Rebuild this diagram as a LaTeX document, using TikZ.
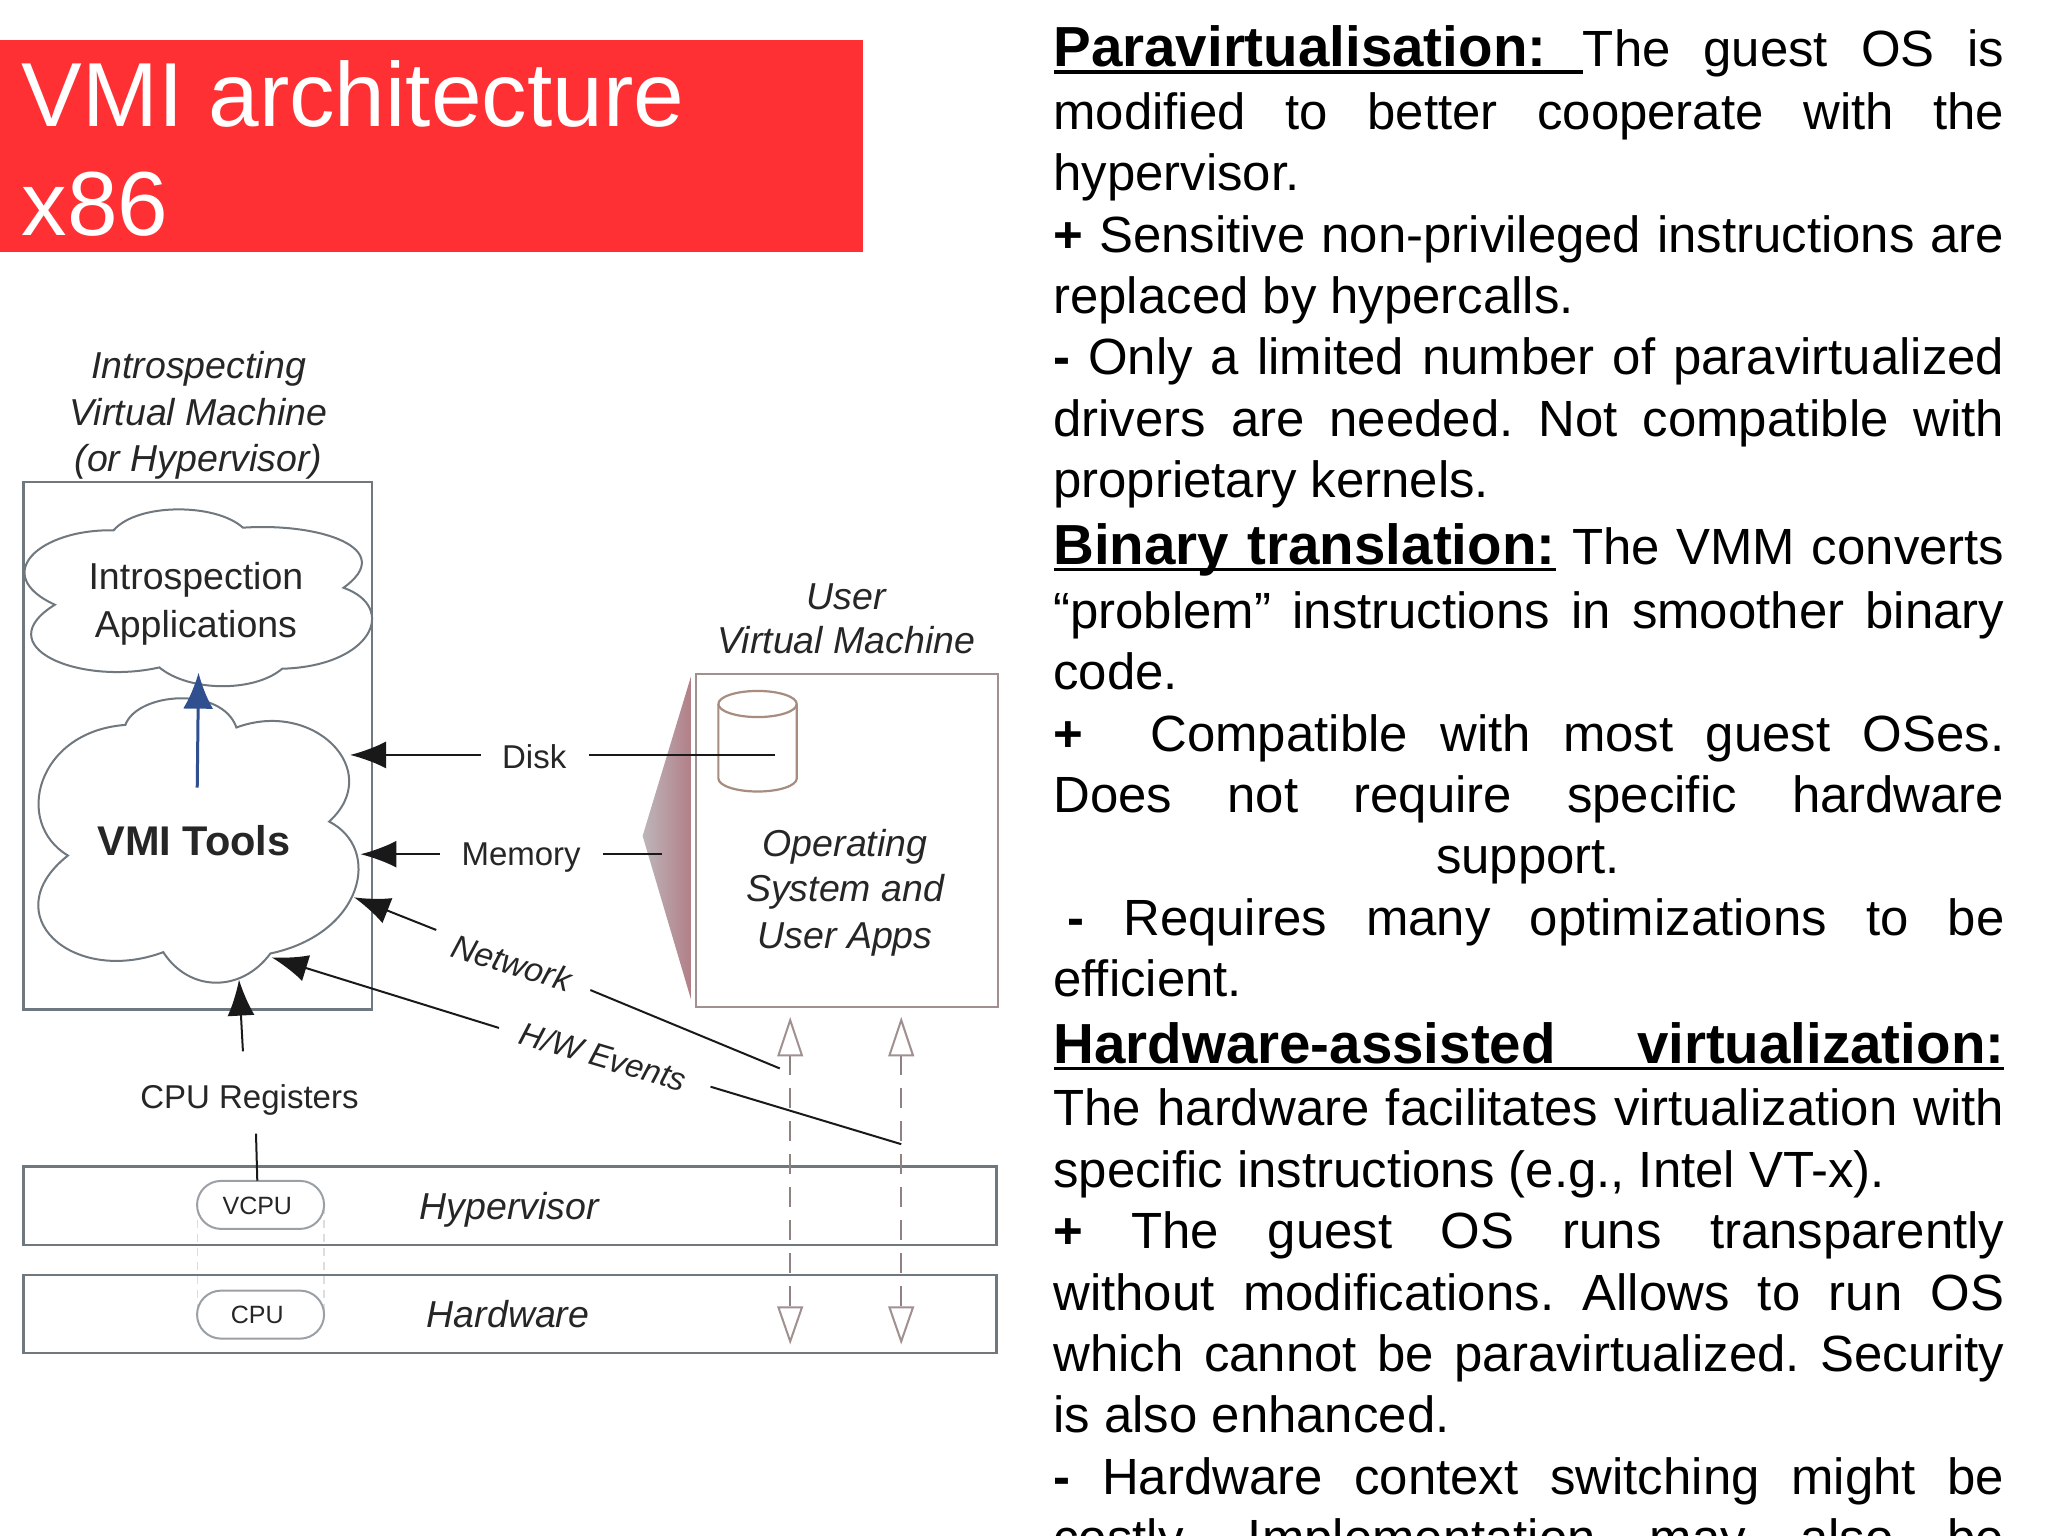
\documentclass[tikz,border=0pt]{standalone}
\usepackage{fontspec}
\setmainfont{Liberation Sans}
\usetikzlibrary{arrows.meta}
\hbadness=10000 \hfuzz=30pt
\definecolor{redbar}{HTML}{FE3033}
\definecolor{boxline}{HTML}{6F777F}
\definecolor{pinkline}{HTML}{A0908F}
\definecolor{ink}{HTML}{262626}
\definecolor{bluearrow}{HTML}{2F4F8F}
\definecolor{wedgeL}{HTML}{BDB6BA}
\definecolor{wedgeR}{HTML}{B27F88}
\newcommand{\FSbody}{\fontsize{50.9}{60}\selectfont}
\newcommand{\FShead}{\fontsize{56.5}{66}\selectfont\bfseries}
\newcommand{\JL}[1]{\makebox[951pt][s]{\frenchspacing #1}}
\tikzset{
  every node/.style={inner sep=0pt,outer sep=0pt},
  textline/.style={anchor=base west,text=black,font=\FSbody},
  box/.style={draw=boxline,line width=2.4pt},
  cloud line/.style={draw=boxline,line width=2pt,fill=white},
  lab/.style={text=ink,font=\fontsize{37.5}{44}\selectfont\itshape,anchor=base},
  plainlab/.style={text=ink,font=\fontsize{37.5}{44}\selectfont,anchor=base},
  small/.style={text=ink,font=\fontsize{33}{40}\selectfont,anchor=base},
  smallit/.style={text=ink,font=\fontsize{33.5}{40}\selectfont\itshape,anchor=center},
  smallhw/.style={text=ink,font=\fontsize{32.5}{40}\selectfont\itshape,anchor=center},
  arrowline/.style={draw=black!90,line width=2pt},
  head/.style={arrowline,-{Latex[length=36pt,width=27pt]}},
  pill/.style={draw=boxline!70,line width=2pt,rounded corners=24pt,fill=white},
  pilltext/.style={text=ink,font=\fontsize{25}{30}\selectfont},
  hollow/.style={draw=pinkline,line width=2pt,fill=white,line join=miter},
  dashline/.style={draw=pinkline!90!black,line width=1.8pt,dash pattern=on 20pt off 13pt},
  ulinest/.style={draw=black,line width=3.6pt},
  cylline/.style={draw=pinkline!80!brown,line width=2.2pt},
}
\begin{document}
\begin{tikzpicture}[x=1.30612pt,y=-1.30612pt]
\clip (0,0) rectangle (1568,1176);
\fill[white] (0,0) rectangle (1568,1176);
% title
\fill[redbar] (0,31) rectangle (661,193);
\node[anchor=base west,text=white,font=\fontsize{91}{100}\selectfont] (t1) at (16.5,97) {VMI architecture};
\node[anchor=base west,text=white,font=\fontsize{91}{100}\selectfont] (t2) at (16.5,180) {x86};
% boxes
\draw[box] (18,369) rectangle (285,773);
\draw[box] (18,893) rectangle (763,953);
\draw[box] (18,976) rectangle (763,1036);
\draw[draw=pinkline,line width=2.2pt] (533,516) rectangle (764,771);
% wedge
\shade[left color=wedgeL,right color=wedgeR] (529,518) -- (492,640) -- (529,765) -- cycle;
% cylinder
\draw[cylline] (550,539) arc[start angle=180,end angle=-180,x radius=30,y radius=10];
\draw[cylline] (550,539) -- (550,596) arc[start angle=180,end angle=0,x radius=30,y radius=10] -- (610,539);
% clouds
\draw[cloud line] (42,463) .. controls (-8,440) and (30,405) .. (87,406)
  .. controls (105,385) and (165,385) .. (186,404)
  .. controls (245,400) and (305,420) .. (263,450)
  .. controls (305,465) and (285,510) .. (216,512)
  .. controls (195,530) and (145,530) .. (122,511)
  .. controls (60,525) and (-10,495) .. (42,463) -- cycle;
\draw[cloud line] (52,655) .. controls (10,630) and (28,560) .. (96,555)
  .. controls (105,530) and (170,525) .. (181,557)
  .. controls (240,535) and (295,590) .. (252,629)
  .. controls (293,650) and (278,715) .. (207,730)
  .. controls (185,760) and (145,760) .. (125,729)
  .. controls (55,755) and (-5,700) .. (52,655) -- cycle;
% labels
\node[lab] (i1) at (152,290) {Introspecting};
\node[lab] (i2) at (152,326) {Virtual Machine};
\node[lab] (i3) at (152,361) {(or Hypervisor)};
\node[lab] (u1) at (648,467) {User};
\node[lab] (u2) at (648,500) {Virtual Machine};
\node[lab] (o1) at (647,656) {Operating};
\node[lab] (o2) at (647,690) {System and};
\node[lab] (o3) at (647,726) {User Apps};
\node[plainlab] (a1) at (150,451) {Introspection};
\node[plainlab] (a2) at (150,488) {Applications};
\node[text=ink,font=\fontsize{41.5}{48}\selectfont\bfseries,anchor=base] (vmi) at (148.5,655) {VMI Tools};
\node[small] (disk) at (409,588) {Disk};
\node[small] (mem) at (399,663) {Memory};
\node[smallit,rotate=-17] (net) at (392,737) {Network};
\node[smallhw,rotate=-16.5] (hw) at (462,809) {H/W Events};
\node[small] (cpur) at (191,849) {CPU Registers};
\node[lab] (hyp) at (390,934) {Hypervisor};
\node[lab] (hard) at (389,1016) {Hardware};
% faint dashes between pills
\draw[draw=boxline!25,line width=1.4pt,dash pattern=on 8pt off 6pt] (151,923) -- (151,1007);
\draw[draw=boxline!25,line width=1.4pt,dash pattern=on 8pt off 6pt] (248,923) -- (248,1007);
\node[pill,minimum width=127pt,minimum height=48pt] (vcpu) at (199.5,922.5) {};
\node[pill,minimum width=127pt,minimum height=48pt] (cpu) at (199.5,1006.5) {};
\node[pilltext] (vcput) at (197,923) {VCPU};
\node[pilltext] (cput) at (197,1007) {CPU};
% coordinates
\coordinate (diskTip) at (268,578);
\coordinate (diskA) at (368,578);
\coordinate (diskB) at (451,578);
\coordinate (diskC) at (593,578);
\coordinate (memTip) at (276,654);
\coordinate (memA) at (337,654);
\coordinate (memB) at (462,654);
\coordinate (memC) at (507,654);
\coordinate (netTip) at (271,687);
\coordinate (netA) at (334,712);
\coordinate (netB) at (452,758);
\coordinate (netC) at (597,818);
\coordinate (hwTip) at (208,733);
\coordinate (hwA) at (382,787);
\coordinate (hwB) at (544,832);
\coordinate (hwC) at (690,876);
\coordinate (cpuTip) at (183,750);
\coordinate (cpuA) at (186,805);
\coordinate (regA) at (196,868);
\coordinate (regB) at (197,904);
\coordinate (blueA) at (151,603);
\coordinate (blueB) at (152,515);
% dashes and hollow tips
\foreach \n/\xx in {a/605,b/690}{
  \draw[dashline] (\xx,808) -- (\xx,1001);
  \draw[hollow] (\xx,781) -- (\xx+9,808) -- (\xx-9,808) -- cycle;
  \draw[hollow] (\xx,1027) -- (\xx+9,1001) -- (\xx-9,1001) -- cycle;
}
% connectors
\draw[head] (diskA) -- (diskTip);
\draw[arrowline] (diskB) -- (diskC);
\draw[head] (memA) -- (memTip);
\draw[arrowline] (memB) -- (memC);
\draw[head] (netA) -- (netTip);
\draw[arrowline] (netB) -- (netC);
\draw[head] (hwA) -- (hwTip);
\draw[arrowline] (hwB) -- (hwC);
\draw[head] (cpuA) -- (cpuTip);
\draw[arrowline] (regA) -- (regB);
\draw[draw=bluearrow,line width=3pt,-{Latex[length=36pt,width=30pt]}] (blueA) -- (blueB);
% right column
\node[textline] (l1) at (806.5,51) {\JL{{\FShead Paravirtualisation:\ }The guest OS is}};
\draw[ulinest] (807,55) -- (1212,55);
\node[textline] (l2) at (806.5,99) {\JL{modified to better cooperate with the}};
\node[textline] (l3) at (806.5,146) {hypervisor.};
\node[textline] (l4) at (806.5,193) {\JL{{\bfseries +} Sensitive non-privileged instructions are}};
\node[textline] (l5) at (806.5,240) {replaced by hypercalls.};
\node[textline] (l6) at (806.5,287) {\JL{{\bfseries -} Only a limited number of paravirtualized}};
\node[textline] (l7) at (806.5,334) {\JL{drivers are needed. Not compatible with}};
\node[textline] (l8) at (806.5,381) {proprietary kernels.};
\node[textline] (l9) at (806.5,432) {\JL{{\FShead Binary translation:} The VMM converts}};
\draw[ulinest] (807,436) -- (1191,436);
\node[textline] (l10) at (806.5,481) {\JL{“problem” instructions in smoother binary}};
\node[textline] (l11) at (806.5,528) {code.};
\node[textline] (l12) at (806.5,575) {\JL{{\bfseries +} \hspace{0.05em} Compatible with most guest OSes.}};
\node[textline] (l13) at (806.5,622) {\JL{Does not require specific hardware}};
\node[textline,anchor=base] (l14) at (1170,669) {support.};
\node[textline] (l15) at (817,716) {\makebox[937.5pt][s]{{\bfseries -} Requires many optimizations to be}};
\node[textline] (l16) at (806.5,763) {efficient.};
\node[textline] (l17) at (806.5,814) {\JL{{\FShead Hardware-assisted virtualization:}}};
\draw[ulinest] (807,818) -- (1534,818);
\node[textline] (l18) at (806.5,862) {\JL{The hardware facilitates virtualization with}};
\node[textline] (l19) at (806.5,909) {specific instructions (e.g., Intel VT-x).};
\node[textline] (l20) at (806.5,956) {\JL{{\bfseries +} The guest OS runs transparently}};
\node[textline] (l21) at (806.5,1003) {\JL{without modifications. Allows to run OS}};
\node[textline] (l22) at (806.5,1050) {\JL{which cannot be paravirtualized. Security}};
\node[textline] (l23) at (806.5,1097) {is also enhanced.};
\node[textline] (l24) at (806.5,1144) {\JL{{\bfseries -} Hardware context switching might be}};
\node[textline] (l25) at (806.5,1191) {\JL{costly. Implementation may also be}};
\end{tikzpicture}
\end{document}
